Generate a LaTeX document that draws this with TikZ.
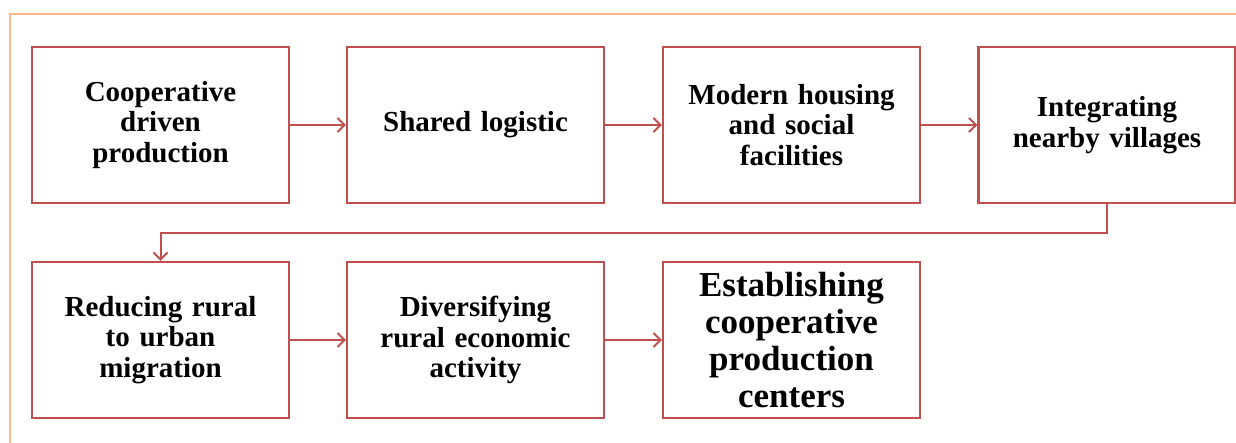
\documentclass[tikz,border=0pt]{standalone}
\usepackage{fontspec}
\setmainfont{Liberation Serif}
\usetikzlibrary{arrows.meta}
\definecolor{boxred}{HTML}{C0504D}
\definecolor{frameorange}{HTML}{FAB890}
\begin{document}
\begin{tikzpicture}[x=1pt,y=-1pt,
  stepbox/.style={draw=boxred, line width=2.3pt, fill=white, minimum width=257pt, minimum height=156pt,
    align=center, text width=245pt, inner sep=0pt, font=\fontsize{29}{30.5}\selectfont\bfseries},
  bigbox/.style={stepbox, font=\fontsize{35}{37}\selectfont\bfseries},
  arr/.style={draw=boxred, line width=2pt, -{Straight Barb[length=7pt,width=14pt,line width=2pt]}}]
\useasboundingbox (0,0) rectangle (1236,443);
\clip (0,0) rectangle (1236,443);
\fill[white] (0,0) rectangle (1236,443);
\draw[frameorange, line width=2.4pt] (10,14) rectangle (1260,470);
\node[stepbox] (b1) at (160.5,125) {Cooperative\\driven\\production};
\node[stepbox] (b2) at (475.5,125) {Shared logistic};
\node[stepbox] (b3) at (791.5,125) {Modern housing\\and social\\facilities};
\node[stepbox] (b4) at (1107,125) {Integrating\\nearby villages};
\node[stepbox] (b5) at (160.5,340) {Reducing rural\\to urban\\migration};
\node[stepbox] (b6) at (475.5,340) {Diversifying\\rural economic\\activity};
\node[bigbox] (b7) at (791.5,340) {Establishing\\cooperative\\production\\centers};
\draw[arr] (b1) -- (b2);
\draw[arr] (b2) -- (b3);
\draw[arr] (b3) -- (b4);
\draw[arr] (b4.south) -- ++(0,29) -| (b5.north);
\draw[arr] (b5) -- (b6);
\draw[arr] (b6) -- (b7);
\end{tikzpicture}
\end{document}
